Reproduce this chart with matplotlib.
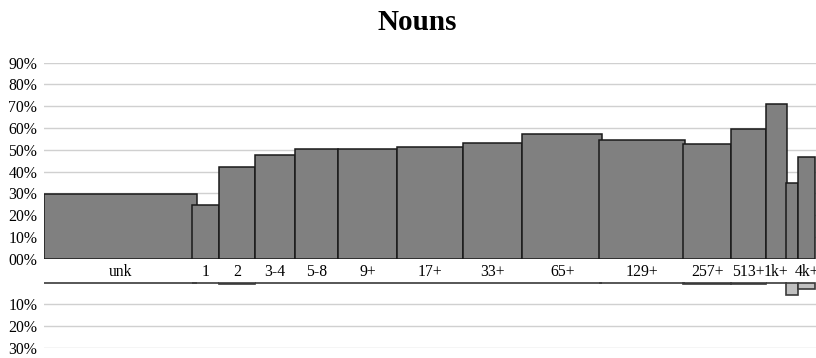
import matplotlib
matplotlib.use("Agg")
import matplotlib.pyplot as plt
from matplotlib.ticker import FuncFormatter

# ---- data ----
categories = ["unk", "1", "2", "3-4", "5-8", "9+", "17+", "33+", "65+",
              "129+", "257+", "513+", "1k+", "2k+", "4k+"]
tick_labels = ["unk", "1", "2", "3-4", "5-8", "9+", "17+", "33+", "65+",
               "129+", "257+", "513+", "1k+", "", "4k+"]
bin_centers = [76.2, 161.2, 192.9, 230.5, 272.2, 323.2, 385.5, 448.4, 517.9,
               598.0, 662.7, 704.4, 732.0, 747.9, 762.4]
bin_widths = [152.4, 27.6, 35.7, 39.7, 43.6, 58.4, 66.3, 59.3, 79.7,
              86.0, 48.6, 34.7, 20.7, 12.3, 16.8]
upper_values = [0.297, 0.247, 0.421, 0.476, 0.505, 0.502, 0.511, 0.531, 0.574,
                0.545, 0.527, 0.595, 0.710, 0.346, 0.466]
lower_values = [0.001, 0.002, 0.006, 0.002, 0.001, 0.002, 0.001, 0.002, 0.001,
                0.002, 0.007, 0.005, 0.002, 0.058, 0.030]
upper_ticks = [0.0, 0.1, 0.2, 0.3, 0.4, 0.5, 0.6, 0.7, 0.8, 0.9]
lower_ticks = [-0.1, -0.2, -0.3]

plt.rcParams['font.family'] = ['Liberation Serif', 'DejaVu Serif']

fig = plt.figure(figsize=(8.16, 3.58), dpi=100)
W, H = 816, 358
left = 44.3 / W
ax_top = fig.add_axes([left, (H - 258.7) / H, 1 - left, (258.7 - 62.7) / H])
ax_bot = fig.add_axes([left, (H - 348.0) / H, 1 - left, (348.0 - 282.7) / H])

xmax = 771.7
grid_c = "#d0d0d0"
fs = 11.3

# top panel
ax_top.bar(bin_centers, upper_values, width=bin_widths, color="#808080",
           edgecolor="#1a1a1a", linewidth=1.1, zorder=3)
ax_top.set_xlim(0, xmax)
ax_top.set_ylim(0, 0.9)
ax_top.set_yticks(upper_ticks)
ax_top.yaxis.set_major_formatter(FuncFormatter(lambda v, p: "%02d%%" % round(v * 100)))
ax_top.grid(axis="y", color=grid_c, linewidth=1.0, zorder=0)
ax_top.set_xticks(bin_centers)
ax_top.set_xticklabels(tick_labels)
ax_top.tick_params(axis="x", length=0, pad=4, labelsize=fs)
ax_top.tick_params(axis="y", length=0, pad=5, labelsize=fs)
for s in ax_top.spines.values():
    s.set_visible(False)
fig.text(417.5 / W, 1 - 22.0 / H, "Nouns", fontsize=21, fontweight="bold",
         ha="center", va="center")

# bottom panel
neg = [-v for v in lower_values]
ax_bot.bar(bin_centers, neg, width=bin_widths, color="#c0c0c0",
           edgecolor="#3a3a3a", linewidth=1.2, zorder=3, clip_on=False)
ax_bot.set_xlim(0, xmax)
ax_bot.set_ylim(-0.3, 0)
ax_bot.set_yticks(lower_ticks)
ax_bot.yaxis.set_major_formatter(FuncFormatter(lambda v, p: "%02d%%" % round(-v * 100)))
ax_bot.grid(axis="y", color=grid_c, linewidth=1.0, zorder=0)
ax_bot.set_xticks([])
ax_bot.tick_params(axis="y", length=0, pad=5, labelsize=fs)
for s in ax_bot.spines.values():
    s.set_visible(False)

fig.savefig("out.png", dpi=100)
